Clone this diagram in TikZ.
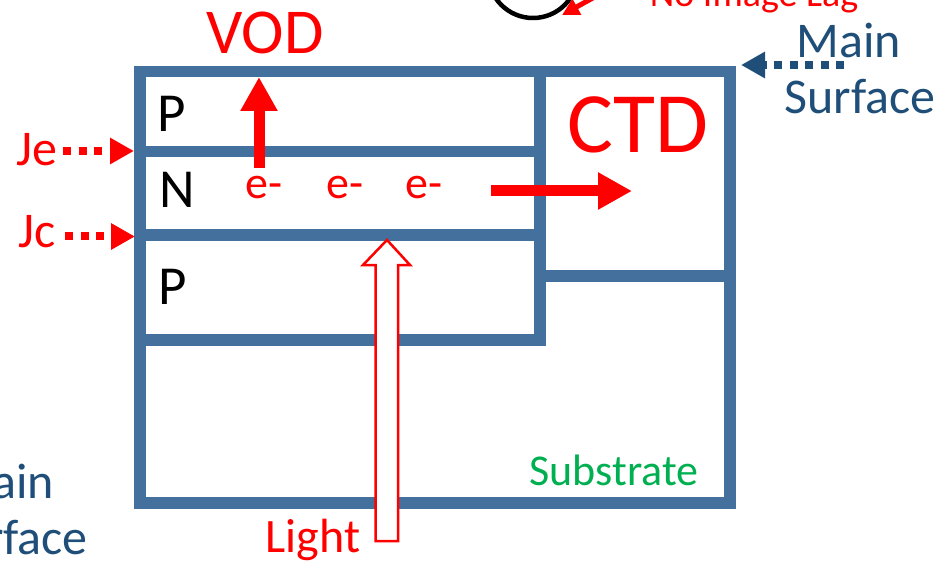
\documentclass[tikz,border=0pt]{standalone}
\usepackage{fontspec}
\setmainfont{Carlito}
\usetikzlibrary{arrows.meta}
\definecolor{wallblue}{HTML}{44709D}
\definecolor{labelblue}{HTML}{1F4E79}
\definecolor{subgreen}{HTML}{00B050}
\newcommand{\fs}[1]{\fontsize{#1}{#1}\selectfont}
\begin{document}
\begin{tikzpicture}[x=1pt,y=-1pt]
\tikzset{wall/.style={draw=wallblue,line width=11.5pt,line cap=rect}}
\tikzset{txt/.style={inner sep=0pt,text=#1}}
\tikzset{flow/.style={draw=red,line width=11pt,-{Triangle[length=34pt,width=35pt]}}}
\tikzset{probe/.style={draw=#1,line width=8pt,dash pattern=on 8pt off 7.5pt,-{Triangle[length=24pt,width=25pt]}}}
\useasboundingbox (0,0) rectangle (945,564);
% outline of the cell
\coordinate (tl) at (140,71.5);
\coordinate (tm) at (540,71.5);
\coordinate (tr) at (730,71.5);
\coordinate (br) at (730,503);
\coordinate (bl) at (140,503);
\coordinate (jel) at (140,151.5);
\coordinate (jer) at (540,151.5);
\coordinate (jcl) at (140,235);
\coordinate (jcr) at (540,235);
\coordinate (pl) at (140,340);
\coordinate (pr) at (540,340);
\coordinate (ctdl) at (540,276);
\coordinate (ctdr) at (730,276);
\draw[wall] (tl) -- (tr) -- (br) -- (bl) -- cycle;
\draw[wall] (tm) -- (pr) -- (pl);
\draw[wall] (jel) -- (jer);
\draw[wall] (jcl) -- (jcr);
\draw[wall] (ctdl) -- (ctdr);
% layers
\node[txt=black,font=\fs{55}] (ptop) at (172,114) {P};
\node[txt=black,font=\fs{55}] (nmid) at (177,190) {N};
\node[txt=black,font=\fs{55}] (pbot) at (173,287) {P};
\node[txt=red,font=\fs{46}] (e1) at (264,188) {e-};
\node[txt=red,font=\fs{46}] (e2) at (345,188) {e-};
\node[txt=red,font=\fs{46}] (e3) at (424,188) {e-};
\node[txt=red,font=\fs{64}] (vod) at (265,33) {VOD};
\node[txt=red,font=\fs{86}] (ctd) at (638,125) {CTD};
\node[txt=subgreen,font=\fs{44}] (sub) at (614,470) {Substrate};
\node[txt=red,font=\fs{50}] (je) at (37,150) {Je};
\node[txt=red,font=\fs{50}] (jc) at (37,232) {Jc};
\node[txt=red,font=\fs{48}] (light) at (313,540) {Light};
\node[txt=labelblue,font=\fs{50}] (main) at (849,40) {Main};
\node[txt=labelblue,font=\fs{50}] (surface) at (860,97) {Surface};
\node[txt=labelblue,font=\fs{50},anchor=east] (mainb) at (54,481) {Main};
\node[txt=labelblue,font=\fs{50},anchor=east] (surfaceb) at (88,538) {Surface};
\node[txt=red,font=\fs{38}] (lag) at (754,-2) {No Image Lag};
% carrier flow
\coordinate (voda) at (259,168);
\coordinate (vodb) at (259,77);
\coordinate (ctda) at (491,191);
\coordinate (ctdb) at (632,191);
\draw[flow] (voda) -- (vodb);
\draw[flow] (ctda) -- (ctdb);
% junction marks
\coordinate (jea) at (63,151);
\coordinate (jeb) at (134,151);
\coordinate (jca) at (65,236.5);
\coordinate (jcb) at (135,236.5);
\coordinate (msa) at (844,65);
\coordinate (msb) at (741,65);
\draw[probe=red] (jea) -- (jeb);
\draw[probe=red] (jca) -- (jcb);
\draw[probe=labelblue] (msa) -- (msb);
% light
\coordinate (lt) at (387,240);
\draw[red,line width=2.5pt,fill=white] (375.5,541) -- (398,541) -- (398,265) -- (410,265) -- (lt) -- (363,265) -- (375.5,265) -- cycle;
% lag mark at the top
\coordinate (ringc) at (533,-27);
\draw[black,line width=4.5pt] (ringc) circle (45);
\coordinate (laga) at (600,-6);
\coordinate (lagb) at (562,15);
\draw[red,line width=5pt,-{Triangle[length=17pt,width=17pt]}] (laga) -- (lagb);
\end{tikzpicture}
\end{document}
